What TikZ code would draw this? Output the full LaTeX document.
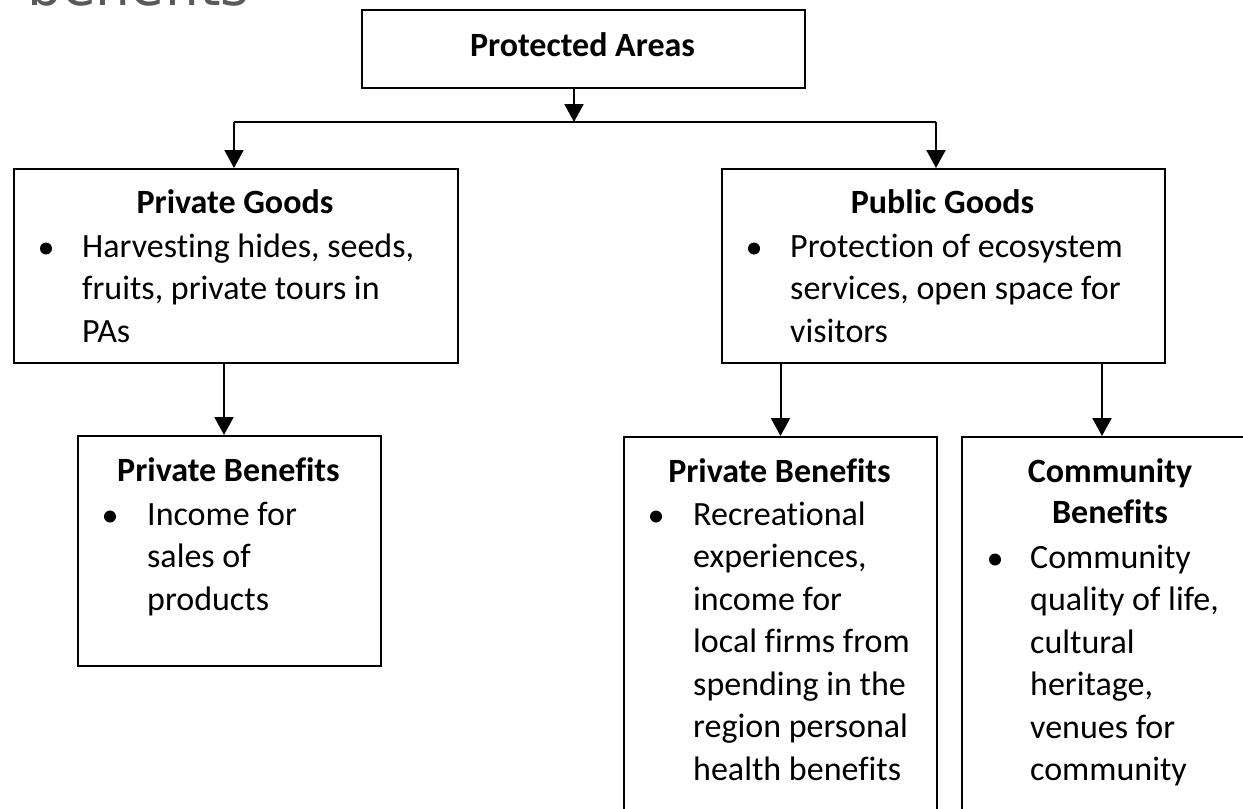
\documentclass[tikz,border=0pt]{standalone}
\usepackage{fontspec}
\setmainfont{Carlito}[Ligatures=NoCommon]
\newfontfamily\capfont{DejaVu Sans}[Ligatures=NoCommon]
\usetikzlibrary{arrows.meta}
\begin{document}
\begin{tikzpicture}[x=1pt,y=-1pt,
  font=\fontsize{34}{42.5}\selectfont,
  box/.style={draw,line width=2pt,inner sep=0pt,anchor=north west},
  link/.style={line width=2pt,-{Triangle[width=19pt,length=18pt]}},
  head/.style={anchor=base,inner sep=0pt,font=\fontsize{34}{42.5}\selectfont\bfseries},
  item/.style={anchor=base west,inner sep=0pt},
  dot/.style={circle,fill,inner sep=0pt,minimum size=12pt}]
\useasboundingbox (0,0) rectangle (1243,809);
\clip (0,0) rectangle (1243,809);
\fill[white] (0,0) rectangle (1243,809);
% cut-off heading
\node[anchor=base west,inner sep=0pt,text=black!65,font=\capfont\fontsize{55}{60}\selectfont] (cuthead) at (27,5) {benefits};
% boxes
\node[box,minimum width=443,minimum height=78] (areas) at (361,9) {};
\node[box,minimum width=444,minimum height=194] (private) at (13,168) {};
\node[box,minimum width=443,minimum height=194] (public) at (721,168) {};
\node[box,minimum width=303,minimum height=230] (privben) at (77,435) {};
\node[box,minimum width=313,minimum height=420] (privbentwo) at (623,436) {};
\node[box,minimum width=300,minimum height=420] (community) at (961,436) {};
% top box
\node[head] (areastitle) at (582.5,56) {Protected Areas};
% private goods
\node[head] (privatetitle) at (235,213) {Private Goods};
\node[dot] (d1) at (46,248.5) {};
\node[item] (p1) at (82,257) {Harvesting hides, seeds,};
\node[item] (p2) at (82,299.5) {fruits, private tours in};
\node[item] (p3) at (82,342) {PAs};
% public goods
\node[head] (publictitle) at (942.5,213) {Public Goods};
\node[dot] (d2) at (754,248.5) {};
\node[item] (q1) at (790,257) {Protection of ecosystem};
\node[item] (q2) at (790,299.5) {services, open space for};
\node[item] (q3) at (790,342) {visitors};
% private benefits, left
\node[head] (privbentitle) at (228.5,481) {Private Benefits};
\node[dot] (d3) at (110,516.5) {};
\node[item] (r1) at (147,525) {Income for};
\node[item] (r2) at (147,567.5) {sales of};
\node[item] (r3) at (147,610) {products};
% private benefits, right
\node[head] (privbentwotitle) at (779.5,482) {Private Benefits};
\node[dot] (d4) at (656,516.5) {};
\node[item] (s1) at (693,525) {Recreational};
\node[item] (s2) at (693,567.5) {experiences,};
\node[item] (s3) at (693,610) {income for};
\node[item] (s4) at (693,652.5) {local firms from};
\node[item] (s5) at (693,695) {spending in the};
\node[item] (s6) at (693,737.5) {region personal};
\node[item] (s7) at (693,780) {health benefits};
% community benefits
\node[head] (communitytitle) at (1110,482) {Community};
\node[head] (communitytitletwo) at (1110,523) {Benefits};
\node[dot] (d5) at (995,559.5) {};
\node[item] (t1) at (1030,568) {Community};
\node[item] (t2) at (1030,610.5) {quality of life,};
\node[item] (t3) at (1030,653) {cultural};
\node[item] (t4) at (1030,695.5) {heritage,};
\node[item] (t5) at (1030,738) {venues for};
\node[item] (t6) at (1030,780.5) {community};
% connectors
\coordinate (split) at (574,122);
\coordinate (busleft) at (234,122);
\coordinate (busright) at (936,122);
\draw[link] (areas.south -| split) -- (split);
\draw[line width=2pt] (busleft) -- (busright);
\draw[link] (busleft) -- (busleft |- private.north);
\draw[link] (busright) -- (busright |- public.north);
\draw[link] ([xshift=-12pt]private.south) -- ([xshift=-12pt]private.south |- privben.north);
\draw[link] (public.south -| privbentwo.north) -- (privbentwo.north);
\draw[link] ([xshift=-64pt]public.south east) -- ([xshift=-64pt]public.south east |- community.north);
\end{tikzpicture}
\end{document}
